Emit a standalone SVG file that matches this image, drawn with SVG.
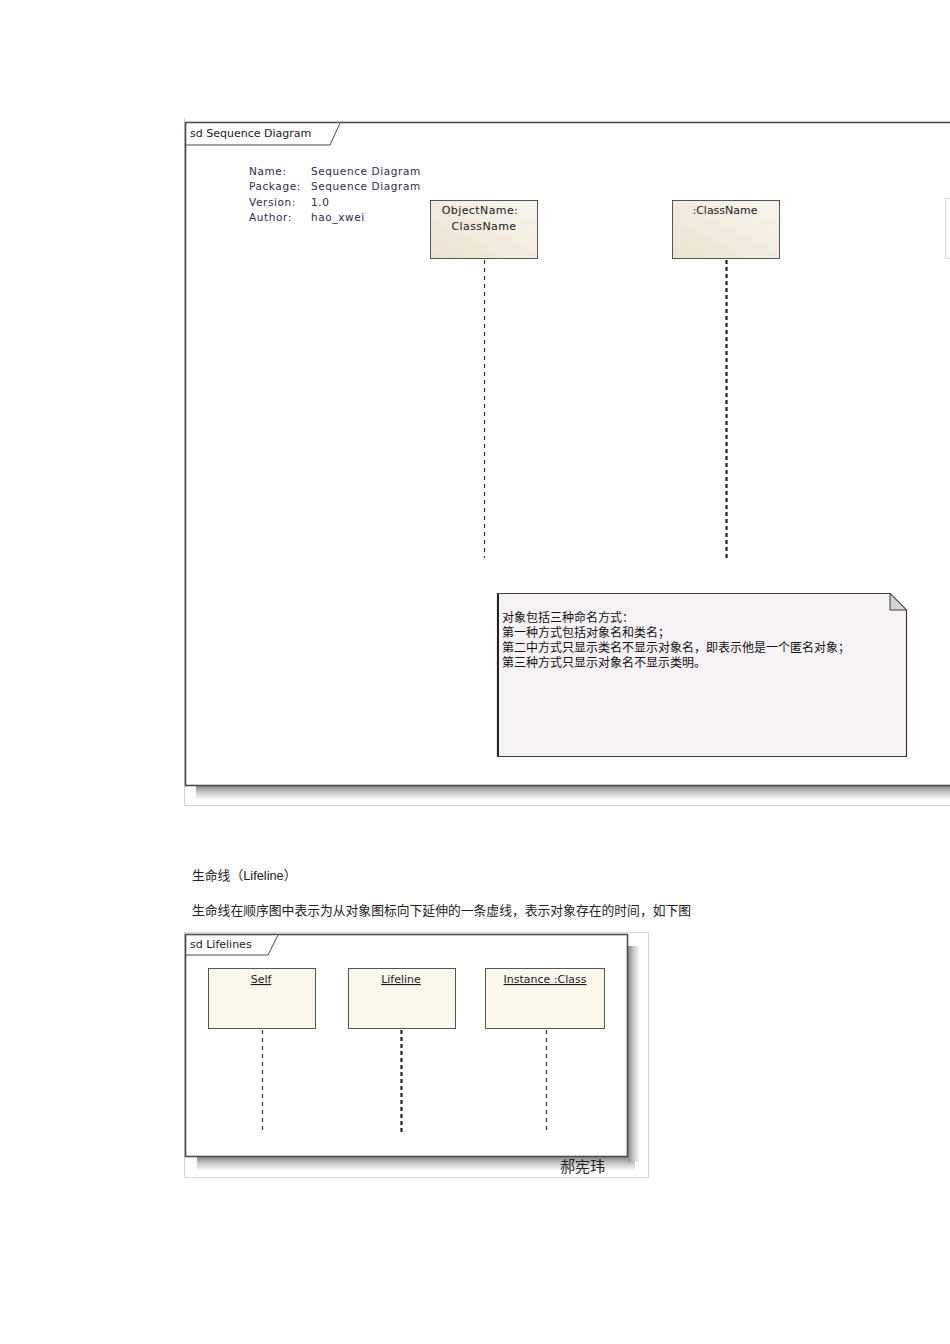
<svg xmlns="http://www.w3.org/2000/svg" width="950" height="1344" viewBox="0 0 950 1344">
<style>
.ui{font-family:"DejaVu Sans","Liberation Sans",sans-serif;font-size:11px;fill:#1a1a1a}
.meta{font-family:"DejaVu Sans","Liberation Sans",sans-serif;font-size:10.5px;fill:#2b2b55;letter-spacing:0.6px}
.cjk{font-family:"Noto Sans CJK SC","DejaVu Sans",sans-serif;font-size:12px;fill:#111}
.body{font-family:"Liberation Sans","Noto Sans CJK SC",sans-serif;font-size:12.8px;fill:#222}
.frame{fill:#fff;stroke:#4a4a4a;stroke-width:1.6}
.tab{fill:#fff;stroke:#4a4a4a;stroke-width:1}
.obj{stroke:#555;stroke-width:1;fill:url(#beige)}
.obj2{stroke:#555;stroke-width:1;fill:#fdf8ec}
.ll{stroke:#333;stroke-width:1.2;stroke-dasharray:4,4;fill:none}
.llb{stroke:#222;stroke-width:2.2;stroke-dasharray:4,3;fill:none}
.imgb{fill:none;stroke:#d4d4d4;stroke-width:1}
</style>
<defs>
<linearGradient id="beige" x1="0" y1="1" x2="1" y2="0">
<stop offset="0" stop-color="#ece3d2"/>
<stop offset="1" stop-color="#f8f4ee"/>
</linearGradient>
<linearGradient id="shB" x1="0" y1="0" x2="0" y2="1">
<stop offset="0" stop-color="#8a8a8a"/>
<stop offset="0.5" stop-color="#cdcdcd"/>
<stop offset="1" stop-color="#ffffff"/>
</linearGradient>
<linearGradient id="shR" x1="0" y1="0" x2="1" y2="0">
<stop offset="0" stop-color="#8a8a8a"/>
<stop offset="0.5" stop-color="#cdcdcd"/>
<stop offset="1" stop-color="#ffffff"/>
</linearGradient>
</defs>
<rect width="950" height="1344" fill="#fff"/>

<!-- Top image -->
<g id="top-image">
<line class="imgb" x1="184.5" y1="118" x2="184.5" y2="805.5"/>
<line class="imgb" x1="184.5" y1="805.5" x2="950" y2="805.5"/>
<rect x="196" y="786" width="754" height="14" fill="url(#shB)"/>
<rect class="frame" x="185.5" y="122.5" width="780" height="663"/>
<path class="tab" d="M185.5,145 H330 L340,123"/>
<text class="ui" x="190" y="137">sd Sequence Diagram</text>
</g>

<g id="metadata">
<text class="meta" x="249" y="175" fill="#1c1c40">Name:</text>
<text class="meta" x="249" y="190" fill="#1c1c40">Package:</text>
<text class="meta" x="249" y="206">Version:</text>
<text class="meta" x="249" y="221">Author:</text>
<text class="meta" x="311" y="175">Sequence Diagram</text>
<text class="meta" x="311" y="190">Sequence Diagram</text>
<text class="meta" x="311" y="206">1.0</text>
<text class="meta" x="311" y="221">hao_xwei</text>
</g>

<g id="lifeline-objectname">
<rect class="obj" x="430.5" y="200.5" width="107" height="58"/>
<text class="ui" x="480" y="214" text-anchor="middle" letter-spacing="0.4">ObjectName:</text>
<text class="ui" x="484" y="230" text-anchor="middle" letter-spacing="0.4">ClassName</text>
</g>

<g id="lifeline-classname">
<rect class="obj" x="672.5" y="200.5" width="107" height="58"/>
<text class="ui" x="725" y="214" text-anchor="middle">:ClassName</text>
</g>

<g id="lifeline-edge">
<rect x="945.5" y="198.5" width="10" height="60" fill="#fdfdfd" stroke="#d8d8d8" stroke-width="1"/>
</g>

<g id="note">
<path d="M497.5,593.5 H890 L906.5,610 V756.5 H497.5 Z" fill="#f6f2f6" stroke="#3a3a3a" stroke-width="1.2"/>
<line x1="498" y1="594" x2="498" y2="756" stroke="#222" stroke-width="2"/>
<path d="M890,593.5 V610 H906.5 Z" fill="#d4d4d4" stroke="#3a3a3a" stroke-width="1"/>
<text class="cjk" x="502" y="622">对象包括三种命名方式：</text>
<text class="cjk" x="502" y="637">第一种方式包括对象名和类名；</text>
<text class="cjk" x="502" y="652">第二中方式只显示类名不显示对象名，即表示他是一个匿名对象；</text>
<text class="cjk" x="502" y="667">第三种方式只显示对象名不显示类明。</text>
</g>

<!-- Body text -->
<g id="body-text">
<text class="body" x="192" y="880">生命线（Lifeline）</text>
<text class="body" x="192" y="915">生命线在顺序图中表示为从对象图标向下延伸的一条虚线，表示对象存在的时间，如下图</text>
</g>

<!-- Bottom image -->
<g id="bottom-image">
<rect class="imgb" x="184.5" y="932.5" width="464" height="245"/>
<rect x="197" y="1157" width="438" height="14" fill="url(#shB)"/>
<rect x="628" y="946" width="12" height="216" fill="url(#shR)"/>
<rect class="frame" x="185.5" y="934.5" width="442" height="222"/>
<path class="tab" d="M185.5,955 H268 L278,935"/>
<text class="ui" x="190" y="948">sd Lifelines</text>
<text x="560" y="1172" font-family="Noto Sans CJK SC, sans-serif" font-size="15" fill="#222">郝宪玮</text>
</g>

<g id="lifeline-self">
<rect class="obj2" x="208.5" y="968.5" width="107" height="60"/>
<text class="ui" x="261" y="983" text-anchor="middle" text-decoration="underline">Self</text>
</g>
<g id="lifeline-lifeline">
<rect class="obj2" x="348.5" y="968.5" width="107" height="60"/>
<text class="ui" x="401" y="983" text-anchor="middle" text-decoration="underline">Lifeline</text>
</g>
<g id="lifeline-instance">
<rect class="obj2" x="485.5" y="968.5" width="119" height="60"/>
<text class="ui" x="545" y="983" text-anchor="middle" text-decoration="underline">Instance :Class</text>
</g>

<g id="connectors">
<line class="ll" x1="484.5" y1="260" x2="484.5" y2="558"/>
<line class="llb" x1="726.5" y1="260" x2="726.5" y2="558"/>
<line class="ll" x1="262.5" y1="1030" x2="262.5" y2="1133"/>
<line class="llb" x1="401.5" y1="1030" x2="401.5" y2="1133"/>
<line class="ll" x1="546.5" y1="1030" x2="546.5" y2="1133"/>
</g>
</svg>
